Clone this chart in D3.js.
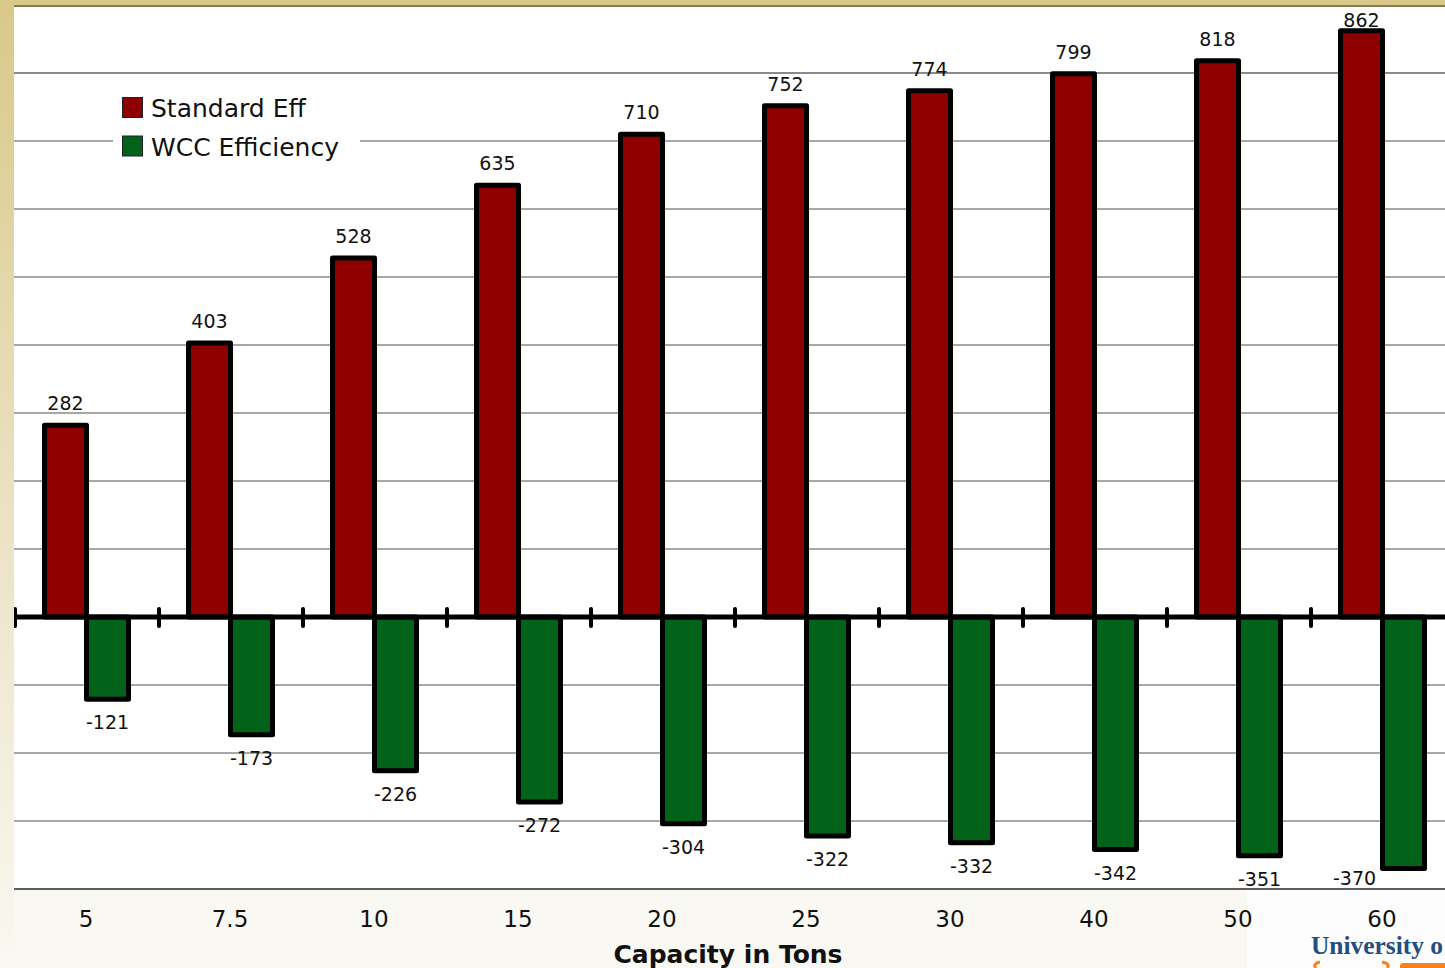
<!DOCTYPE html>
<html>
<head>
<meta charset="utf-8">
<script src="https://cdn.jsdelivr.net/npm/d3@7"></script>
<style>
  html, body { margin: 0; padding: 0; background: #f9f8f3; overflow: hidden; }
  svg { display: block; }
</style>
</head>
<body>
<svg id="chart" width="1445" height="968"></svg>
<script>
// ---- data ----
const categories = ["5", "7.5", "10", "15", "20", "25", "30", "40", "50", "60"];
const seriesNames = ["Standard Eff", "WCC Efficiency"];
const standardEff = [282, 403, 528, 635, 710, 752, 774, 799, 818, 862];
const wccEfficiency = [-121, -173, -226, -272, -304, -322, -332, -342, -351, -370];
const gridValues = [-400, -300, -200, -100, 100, 200, 300, 400, 500, 600, 700, 800, 900];
const xTitle = "Capacity in Tons";
const colors = ["#8e0000", "#03621a"];

const svg = d3.select("#chart");
const W = 1445, H = 968;

// ---- scales ----
const x = d3.scaleBand().domain(categories).range([14, 1454]).padding(0);
const xSub = d3.scaleBand().domain(["std", "wcc"]).range([30.5, 114.5]).padding(0);
const y = d3.scaleLinear().domain([-400, 900]).range([889, 5]);

// ---- background ----
const defs = svg.append("defs");
const lg = defs.append("linearGradient").attr("id", "leftGrad")
  .attr("x1", 0).attr("y1", 0).attr("x2", 0).attr("y2", 1);
lg.append("stop").attr("offset", "0%").attr("stop-color", "#d9c888");
lg.append("stop").attr("offset", "55%").attr("stop-color", "#ece3c6");
lg.append("stop").attr("offset", "100%").attr("stop-color", "#faf8f1");

svg.append("rect").attr("x", 0).attr("y", 0).attr("width", W).attr("height", H).attr("fill", "#f9f8f3");
svg.append("rect").attr("x", 0).attr("y", 0).attr("width", 14).attr("height", H).attr("fill", "url(#leftGrad)");

// plot area
const plotTop = 7, plotBottom = y(-400), plotLeft = 14;
svg.append("rect").attr("x", plotLeft).attr("y", plotTop).attr("width", W - plotLeft).attr("height", plotBottom - plotTop).attr("fill", "#ffffff");
defs.append("clipPath").attr("id", "plotClip").append("rect")
  .attr("x", plotLeft).attr("y", plotTop).attr("width", W - plotLeft).attr("height", plotBottom - plotTop + 3);

// logo area
svg.append("rect").attr("x", 1247).attr("y", plotBottom).attr("width", W - 1247).attr("height", H - plotBottom).attr("fill", "#fdfdfd");

const g = svg.append("g").attr("clip-path", "url(#plotClip)");

// ---- gridlines ----
g.selectAll("line.grid").data(gridValues).join("line")
  .attr("class", "grid")
  .attr("x1", plotLeft).attr("x2", W)
  .attr("y1", d => y(d)).attr("y2", d => y(d))
  .attr("stroke", d => d === -400 ? "#2a2a2a" : "#8a8a8a")
  .attr("stroke-width", d => d === 800 ? 2 : 1.5);

// ---- bars ----
const barData = [];
categories.forEach((c, i) => {
  barData.push({ cat: c, key: "std", v: standardEff[i], color: colors[0] });
  barData.push({ cat: c, key: "wcc", v: wccEfficiency[i], color: colors[1] });
});

g.selectAll("rect.bar").data(barData).join("rect")
  .attr("class", "bar")
  .attr("x", d => x(d.cat) + xSub(d.key))
  .attr("width", xSub.bandwidth())
  .attr("y", d => Math.min(y(d.v), y(0)))
  .attr("height", d => Math.abs(y(d.v) - y(0)))
  .attr("fill", d => d.color)
  .attr("stroke", "#000")
  .attr("stroke-width", 5)
  .attr("stroke-linejoin", "round");

// ---- zero axis ----
g.append("line")
  .attr("x1", plotLeft).attr("x2", W)
  .attr("y1", y(0)).attr("y2", y(0))
  .attr("stroke", "#000").attr("stroke-width", 5);

g.selectAll("line.tick").data(categories).join("line")
  .attr("class", "tick")
  .attr("x1", d => x(d) + 1).attr("x2", d => x(d) + 1)
  .attr("y1", y(0) - 8).attr("y2", y(0) + 9)
  .attr("stroke", "#000").attr("stroke-width", 4).attr("stroke-linecap", "round");

// ---- value labels ----
const lblFont = "'DejaVu Sans', Verdana, sans-serif";
svg.selectAll("text.vlab").data(barData).join("text")
  .attr("class", "vlab")
  .attr("font-family", lblFont)
  .attr("font-size", 19)
  .attr("fill", "#111")
  .attr("text-anchor", "middle")
  .each(function(d) {
    let cx = x(d.cat) + xSub(d.key) + xSub.bandwidth() / 2;
    let cy;
    if (d.v >= 0) {
      cy = Math.max(y(d.v) - 15, plotTop + 20);
    } else {
      cy = y(d.v) + 30;
      if (cy > plotBottom - 3) { cy = plotBottom - 4; cx -= 49; }
    }
    d3.select(this).attr("x", cx).attr("y", cy).text(d.v);
  });

// ---- category labels ----
svg.selectAll("text.cat").data(categories).join("text")
  .attr("class", "cat")
  .attr("x", d => x(d) + x.bandwidth() / 2)
  .attr("y", 927)
  .attr("text-anchor", "middle")
  .attr("font-family", lblFont)
  .attr("font-size", 23)
  .attr("fill", "#111")
  .text(d => d);

svg.append("text")
  .attr("x", 728).attr("y", 963)
  .attr("text-anchor", "middle")
  .attr("font-family", lblFont)
  .attr("font-weight", "bold")
  .attr("font-size", 25)
  .attr("fill", "#111")
  .text(xTitle);

// ---- legend ----
const leg = svg.append("g");
leg.append("rect").attr("x", 113).attr("y", 82).attr("width", 247).attr("height", 88).attr("fill", "#fff");
seriesNames.forEach((name, i) => {
  leg.append("rect").attr("x", 122.5).attr("y", 97.5 + i * 38.5).attr("width", 20).attr("height", 20)
    .attr("fill", colors[i]).attr("stroke", "#222").attr("stroke-width", 1);
  leg.append("text").attr("x", 151).attr("y", 117 + i * 39)
    .attr("font-family", lblFont).attr("font-size", 25).attr("fill", "#111").text(name);
});

// ---- top band ----
svg.append("rect").attr("x", 0).attr("y", 0).attr("width", W).attr("height", 5).attr("fill", "#d9c98a");
svg.append("rect").attr("x", 14).attr("y", 5).attr("width", W - 14).attr("height", 2).attr("fill", "#8a7b55");

// ---- logo fragment ----
svg.append("text").attr("x", 1311).attr("y", 954)
  .attr("font-family", "'Liberation Serif', 'DejaVu Serif', serif")
  .attr("font-weight", "bold").attr("font-size", 26).attr("fill", "#244d80")
  .attr("textLength", 132).attr("lengthAdjust", "spacingAndGlyphs")
  .text("University o");
svg.append("rect").attr("x", 1400).attr("y", 963).attr("width", 50).attr("height", 8).attr("rx", 3).attr("fill", "#f4821e");
svg.append("path").attr("d", "M1316,968 Q1312,964 1320,962").attr("fill", "none").attr("stroke", "#f4821e").attr("stroke-width", 3);
svg.append("path").attr("d", "M1382,962 Q1391,964 1387,968").attr("fill", "none").attr("stroke", "#f4821e").attr("stroke-width", 3);
</script>
</body>
</html>
